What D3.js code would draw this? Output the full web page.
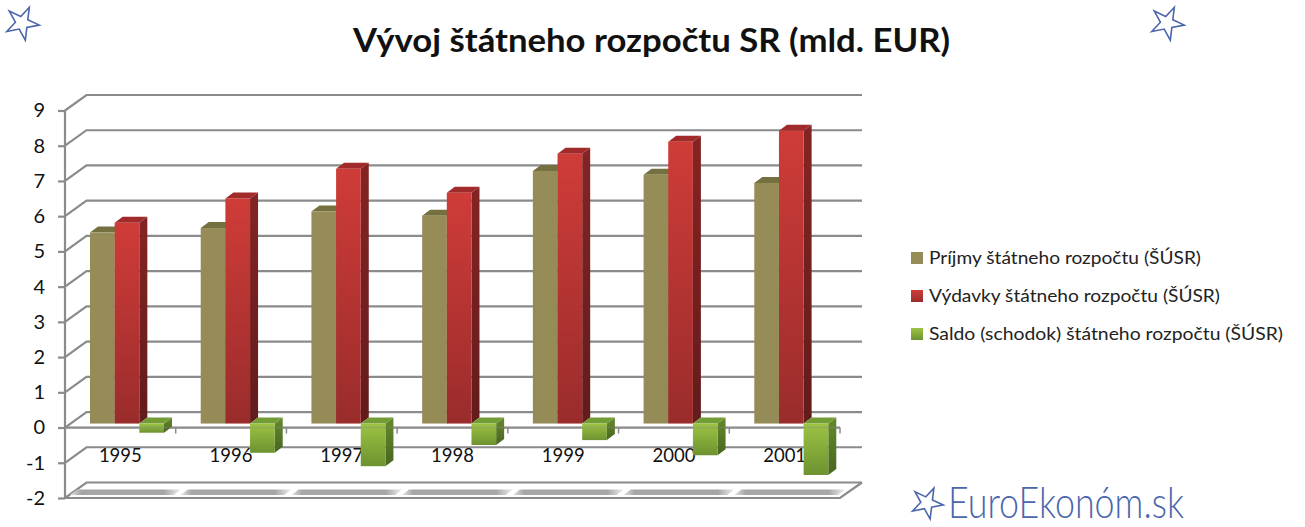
<!DOCTYPE html>
<html>
<head>
<meta charset="utf-8">
<script src="https://d3js.org/d3.v7.min.js"></script>
<style>
  html, body { margin: 0; padding: 0; background: #fff; }
  svg { display: block; }
  text { font-family: Lato, "Open Sans", sans-serif; fill: #111; }
</style>
</head>
<body>
<div id="chart"></div>
<script>
// Values
const years = ["1995", "1996", "1997", "1998", "1999", "2000", "2001"];
const seriesNames = [
  "Príjmy štátneho rozpočtu (ŠÚSR)",
  "Výdavky štátneho rozpočtu (ŠÚSR)",
  "Saldo (schodok) štátneho rozpočtu (ŠÚSR)"
];
const prijmy = [5.42, 5.55, 6.02, 5.9, 7.17, 7.06, 6.83];
const vydavky = [5.7, 6.39, 7.23, 6.55, 7.66, 8.0, 8.31];
const saldo = [-0.26, -0.83, -1.21, -0.61, -0.47, -0.9, -1.46];
const yTicks = [-2, -1, 0, 1, 2, 3, 4, 5, 6, 7, 8, 9];

const width = 1305, height = 527;

// The fake 3D box: back wall is shifted from the front plane
const wallDx = 21.5, wallDy = -15.5;
const barDepthX = 8, barDepthY = -6;
const plot = { left: 65, right: 840, top: 110.5, bottom: 498 };

const svg = d3.select("#chart").append("svg")
  .attr("width", width)
  .attr("height", height)
  .attr("viewBox", `0 0 ${width} ${height}`);

const y = d3.scaleLinear().domain([-2, 9]).range([plot.bottom, plot.top]);
const x = d3.scaleBand().domain(years).range([plot.left, plot.right]);
// Bars stand a bit behind the front plane
const barPlaneDy = -4;
const xBar = d3.scaleBand().domain([0, 1, 2]).range([25, 99]);
const yBar = v => y(v) + barPlaneDy;

const palette = [
  { front: ["#968c58", "#958b57"], top: "#75703f", side: ["#75703f", "#6a6539"] },
  { front: ["#cf3c38", "#9a2c2c"], top: "#a12a2a", side: ["#842424", "#631b1b"] },
  { front: ["#9cc343", "#6d9230"], top: "#739c34", side: ["#648a2c", "#49651f"] }
];

// Gradients for faces
const defs = svg.append("defs");
function vGradient(id, stops) {
  const g = defs.append("linearGradient").attr("id", id)
    .attr("x1", 0).attr("y1", 0).attr("x2", 0).attr("y2", 1);
  g.append("stop").attr("offset", "0%").attr("stop-color", stops[0]);
  g.append("stop").attr("offset", "100%").attr("stop-color", stops[1]);
}
palette.forEach((p, i) => {
  vGradient("front" + i, p.front);
  vGradient("side" + i, p.side);
});
const floorGrad = defs.append("linearGradient").attr("id", "floorShade")
  .attr("x1", 0).attr("y1", 0).attr("x2", 1).attr("y2", 0);
[[0, "#e4e4e4"], [0.1, "#a6a6a6"], [0.85, "#a6a6a6"], [1, "#eeeeee"]].forEach(s =>
  floorGrad.append("stop").attr("offset", s[0]).attr("stop-color", s[1]));

const gridColor = "#8b8b8b";

// Gridlines over the side wall and back wall
const grid = svg.append("g").attr("fill", "none")
  .attr("stroke", gridColor).attr("stroke-width", 2.2);
grid.selectAll("path")
  .data(yTicks)
  .join("path")
  .attr("d", d => `M${plot.left},${y(d)}L${plot.left + wallDx},${y(d) + wallDy}L${plot.right + wallDx + 0.5},${y(d) + wallDy}`);

// Floor front edge and right edge
grid.append("path")
  .attr("d", `M${plot.left},${plot.bottom}L${plot.right},${plot.bottom}L${plot.right + wallDx + 0.5},${plot.bottom + wallDy}`);

// Bar shadows on the floor
const floorY0 = y(-2) - 3, floorY1 = y(-2) - 8.5;
svg.append("g").selectAll("path")
  .data(years)
  .join("path")
  .attr("fill", "url(#floorShade)")
  .attr("d", d => {
    const x0 = x(d) + 5, x1 = x(d) + x.bandwidth() - 2;
    return `M${x0},${floorY0}L${x0 + 7},${floorY1}L${x1 + 7},${floorY1}L${x1},${floorY0}Z`;
  });

// Y axis
const yAxis = d3.axisLeft(y).tickValues(yTicks).tickSize(7).tickPadding(13).tickFormat(d => String(d));
const yAxisG = svg.append("g")
  .attr("transform", `translate(${plot.left},0)`)
  .call(yAxis);
yAxisG.select(".domain").attr("stroke", gridColor).attr("stroke-width", 2.2).attr("d", `M0,${plot.top}V${plot.bottom}`);
yAxisG.selectAll(".tick line").attr("stroke", gridColor).attr("stroke-width", 2.2);
yAxisG.selectAll(".tick text")
  .attr("font-size", 20)
  .attr("font-family", "Lato")
  .attr("fill", "#111");

// Zero axis with category ticks
const xAxis = svg.append("g").attr("transform", `translate(0,${y(0)})`);
xAxis.append("line")
  .attr("x1", plot.left).attr("x2", plot.right)
  .attr("stroke", gridColor).attr("stroke-width", 2.2);
xAxis.selectAll("line.cat")
  .data(years)
  .join("line")
  .attr("class", "cat")
  .attr("x1", d => x(d) + x.bandwidth())
  .attr("x2", d => x(d) + x.bandwidth())
  .attr("y1", 0).attr("y2", 6)
  .attr("stroke", gridColor).attr("stroke-width", 1.5);

// Category labels
svg.append("g").selectAll("text")
  .data(years)
  .join("text")
  .attr("x", d => x(d) + x.bandwidth() / 2)
  .attr("y", y(0) + 34.5)
  .attr("text-anchor", "middle")
  .attr("font-size", 18.5)
  .text(d => d);

// Bars, left to right so the neighbour covers the hidden side
const allSeries = [prijmy, vydavky, saldo];
const bars = svg.append("g");
years.forEach((yr, yi) => {
  allSeries.forEach((vals, si) => {
    const v = vals[yi];
    const x0 = x(yr) + xBar(si), w = xBar.bandwidth();
    const yTop = yBar(Math.max(v, 0)), yBot = yBar(Math.min(v, 0));
    const g = bars.append("g");
    g.append("path")
      .attr("fill", "url(#side" + si + ")")
      .attr("d", `M${x0 + w},${yTop}L${x0 + w + barDepthX},${yTop + barDepthY}L${x0 + w + barDepthX},${yBot + barDepthY}L${x0 + w},${yBot}Z`);
    g.append("path")
      .attr("fill", palette[si].top)
      .attr("d", `M${x0},${yTop}L${x0 + barDepthX},${yTop + barDepthY}L${x0 + w + barDepthX},${yTop + barDepthY}L${x0 + w},${yTop}Z`);
    g.append("rect")
      .attr("x", x0).attr("y", yTop)
      .attr("width", w).attr("height", yBot - yTop)
      .attr("fill", "url(#front" + si + ")");
  });
});

// Zero line shows faintly through the green bars
svg.append("line")
  .attr("x1", plot.left).attr("x2", plot.right)
  .attr("y1", y(0)).attr("y2", y(0))
  .attr("stroke", gridColor).attr("stroke-width", 1.5).attr("stroke-opacity", 0.35);

// Title
svg.append("text")
  .attr("x", 651.5).attr("y", 52)
  .attr("text-anchor", "middle")
  .attr("font-size", 33)
  .attr("font-weight", 700)
  .attr("textLength", 597)
  .attr("lengthAdjust", "spacingAndGlyphs")
  .text("Vývoj štátneho rozpočtu SR (mld. EUR)");

// Legend
const legendY = d3.scalePoint().domain(seriesNames).range([258, 334]);
const legendWidths = [272, 291, 354];
const legend = svg.append("g").selectAll("g")
  .data(seriesNames)
  .join("g")
  .attr("transform", d => `translate(0,${legendY(d)})`);
legend.append("rect")
  .attr("x", 911).attr("y", -6)
  .attr("width", 12).attr("height", 12)
  .attr("fill", (d, i) => "url(#front" + i + ")");
legend.append("text")
  .attr("x", 929).attr("y", 6)
  .attr("font-size", 18)
  .attr("textLength", (d, i) => legendWidths[i])
  .attr("lengthAdjust", "spacingAndGlyphs")
  .style("fill", "#222")
  .text(d => d);

// Stars and logo
const starColor = "#4a66ad";
const star = d3.symbol().type(d3.symbolStar);
const stars = [
  { cx: 22, cy: 23, size: 340, rot: 25 },
  { cx: 1167, cy: 23, size: 340, rot: 25 },
  { cx: 927, cy: 503, size: 300, rot: 25 }
];
svg.append("g").selectAll("path")
  .data(stars)
  .join("path")
  .attr("d", d => star.size(d.size)())
  .attr("transform", d => `translate(${d.cx},${d.cy}) rotate(${d.rot})`)
  .attr("fill", "#fff")
  .attr("stroke", starColor)
  .attr("stroke-width", 1.6);

svg.append("text")
  .attr("x", 948).attr("y", 518)
  .attr("font-size", 43)
  .attr("font-weight", 300)
  .attr("textLength", 236)
  .attr("lengthAdjust", "spacingAndGlyphs")
  .style("fill", starColor)
  .text("EuroEkonóm.sk");
</script>
</body>
</html>
